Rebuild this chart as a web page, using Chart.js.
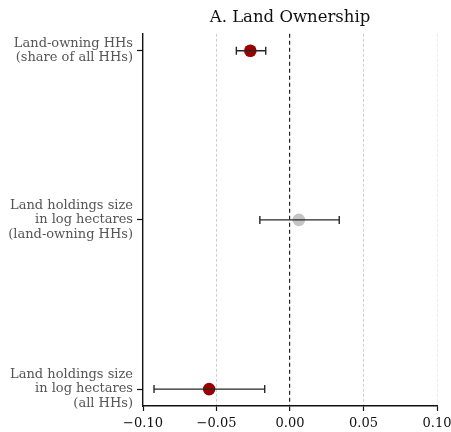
<!DOCTYPE html>
<html>
<head>
<meta charset="utf-8">
<script src="https://cdn.jsdelivr.net/npm/chart.js@4/dist/chart.umd.min.js"></script>
<style>
  html, body { margin: 0; padding: 0; background: #fff; }
  #wrap { width: 451px; height: 432px; }
</style>
</head>
<body>
<div id="wrap"><canvas id="c" width="451" height="432"></canvas></div>
<script>
// Outcomes, top to bottom
const outcomes = [
  ['Land-owning HHs', '(share of all HHs)'],
  ['Land holdings size', 'in log hectares', '(land-owning HHs)'],
  ['Land holdings size', 'in log hectares', '(all HHs)']
];
// Point estimates and 95% confidence bounds
const estimates = [-0.027, 0.006, -0.055];
const lowerCI   = [-0.0365, -0.0205, -0.0925];
const upperCI   = [-0.0165, 0.0335, -0.0172];
// Whether the interval excludes zero
const significant = [true, false, true];
// Tick values of the effect axis
const xTicks = [-0.10, -0.05, 0.00, 0.05, 0.10];

const SERIF = "'DejaVu Serif', 'Liberation Serif', serif";
const RED = '#9b0000';
const GREY = '#c4c4c4';

const fmt = v => (v < -1e-9 ? '\u2212' : '') + Math.abs(v).toFixed(2);

// One line dataset per confidence interval, with vertical caps at both ends
const ciSets = outcomes.map((_, i) => ({
  data: [{ x: lowerCI[i], y: i }, { x: upperCI[i], y: i }],
  showLine: true,
  borderColor: '#262626',
  borderWidth: 1.4,
  pointStyle: 'line',
  rotation: 90,
  pointRadius: 4,
  pointBorderWidth: 1.4,
  pointBorderColor: '#262626',
  order: 0
}));

const pointSet = {
  data: estimates.map((v, i) => ({ x: v, y: i })),
  showLine: false,
  pointRadius: 6.3,
  pointBorderWidth: 0,
  pointBackgroundColor: significant.map(s => s ? RED : GREY),
  pointBorderColor: significant.map(s => s ? RED : GREY),
  order: 1
};

new Chart(document.getElementById('c'), {
  type: 'scatter',
  data: { datasets: [pointSet, ...ciSets] },
  options: {
    responsive: false,
    animation: false,
    events: [],
    layout: { padding: { top: 0, right: 14, bottom: 0, left: 0 } },
    plugins: {
      legend: { display: false },
      tooltip: { enabled: false },
      title: {
        display: true,
        text: 'A. Land Ownership',
        fullSize: false,
        color: '#111',
        font: { family: SERIF, size: 16.5, weight: 'normal' },
        padding: { top: 8, bottom: 6 }
      }
    },
    scales: {
      x: {
        type: 'linear',
        min: -0.10,
        max: 0.10,
        afterBuildTicks: s => { s.ticks = xTicks.map(v => ({ value: v })); },
        afterFit: s => { s.height = 26; s.paddingLeft = 0; s.paddingRight = 0; },
        ticks: {
          callback: v => fmt(v),
          color: '#111',
          font: { family: SERIF, size: 13 },
          padding: 5,
          maxRotation: 0
        },
        grid: {
          drawOnChartArea: true,
          drawTicks: true,
          tickLength: 5,
          tickColor: '#111',
          tickWidth: 1.2,
          tickBorderDash: [],
          lineWidth: ctx => Math.abs(ctx.tick.value) < 1e-9 ? 1.2 : 1,
          color: ctx => {
            const v = ctx.tick.value;
            if (Math.abs(v) < 1e-9) return '#222';
            if (v < -0.099) return 'rgba(0,0,0,0)';
            if (v > 0.099) return '#ececec';
            return '#cfcfcf';
          }
        },
        border: {
          display: true,
          color: '#111',
          width: 1.4,
          dash: ctx => Math.abs(ctx.tick.value) < 1e-9 ? [4, 3] : [3, 2]
        }
      },
      y: {
        type: 'linear',
        reverse: true,
        min: -0.1,
        max: 2.1,
        afterBuildTicks: s => { s.ticks = outcomes.map((_, i) => ({ value: i })); },
        afterFit: s => { s.width = 143; },
        ticks: {
          callback: v => outcomes[Math.round(v)],
          color: '#555',
          font: { family: SERIF, size: 13, lineHeight: 1.12 },
          padding: 4
        },
        grid: {
          drawOnChartArea: false,
          drawTicks: true,
          tickLength: 6,
          tickColor: '#111',
          tickWidth: 1.2
        },
        border: { display: true, color: '#111', width: 1.4 }
      }
    }
  }
});
</script>
</body>
</html>
